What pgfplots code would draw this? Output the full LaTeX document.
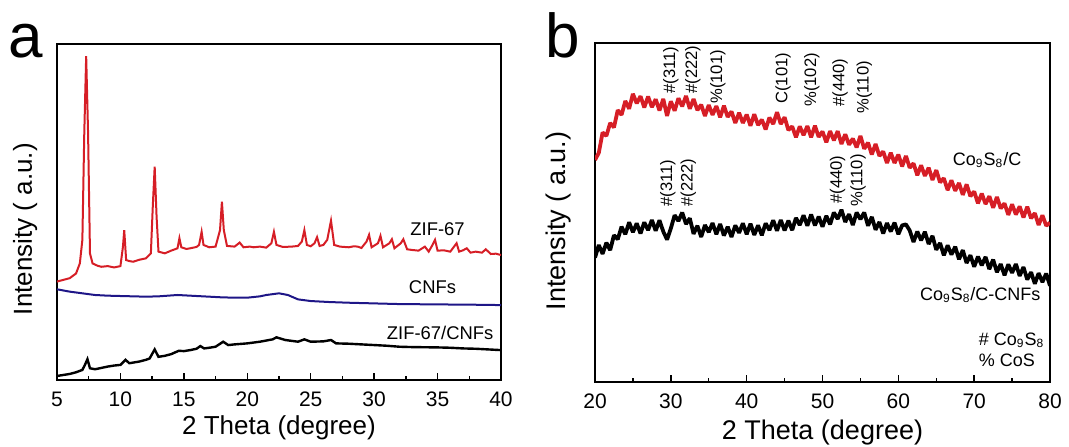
\documentclass[border=0pt]{standalone}
\usepackage{fontspec}
\setmainfont{Liberation Sans}
\usepackage{pgfplots}
\pgfplotsset{compat=1.18}
\definecolor{xred}{RGB}{214,30,38}
\definecolor{xblue}{RGB}{30,22,135}
\pgfplotsset{myaxis/.style={scale only axis, axis line style={line width=0.9pt}, ymin=0, ymax=100, ytick=\empty, xtick pos=left, tick style={black, line width=0.7pt}, major tick length=3.5pt, minor tick length=2pt, minor x tick num=1, tick label style={font=\fontsize{10.5}{12}\selectfont}, every x tick label/.append style={yshift=-2.5pt}, /pgf/number format/assume math mode=true, clip=true}}
\begin{document}
\begin{tikzpicture}[x=1pt,y=1pt]
\path[use as bounding box] (0,0) rectangle (534.5,223);
\node[font=\fontsize{31}{31}\selectfont, anchor=base west, inner sep=0pt] at (4,194.5) {a};
\node[font=\fontsize{31}{31}\selectfont, anchor=base west, inner sep=0pt] at (272.5,194.5) {b};
\begin{axis}[myaxis, at={(28.5pt,33pt)}, anchor=south west, width=222pt, height=168pt,
  xmin=5, xmax=40, xtick={5,10,...,40},
  xlabel={2 Theta (degree)}, xlabel style={font=\fontsize{13}{15}\selectfont, at={(axis description cs:0.5,-0.143)}, anchor=center},
  ylabel={Intensity ( a.u.)}, ylabel style={font=\fontsize{13}{15}\selectfont, at={(axis description cs:-0.072,0.449)}, anchor=center}]
% ZIF-67
\addplot[xred, line width=1pt] coordinates {
(5,29.3)(5.5,29.8)(6,30.3)(6.5,31.7)(6.8,34.7)(7.0,41.7)(7.15,73.4)(7.3,96.4)(7.45,73.4)(7.6,37.7)(7.8,34.7)
(8.2,34.0)(8.5,33.7)(9.0,33.9)(9.5,33.5)(10.0,33.9)(10.2,39.7)(10.3,44.6)(10.45,35.7)(10.7,35.4)(11,35.2)(11.5,35.8)(12,36.2)(12.4,37.7)(12.55,51.6)(12.7,63.5)(12.85,48.6)(13.0,38.2)
(13.5,37.7)(14.0,38.5)(14.5,39.2)(14.65,42.2)(14.8,39.5)(15.2,39.0)(15.5,39.2)(16.0,39.6)(16.2,40.2)(16.4,44.1)(16.55,40.2)(17.0,39.5)(17.5,39.7)(17.85,44.6)(18.0,53.1)(18.15,44.6)(18.4,39.9)
(19.0,39.7)(19.4,40.9)(19.7,39.5)(20.2,39.7)(20.5,39.5)(21.0,39.7)(21.5,39.4)(21.9,40.7)(22.1,44.1)(22.3,40.2)(22.8,39.6)(23.5,39.7)(24.0,39.9)(24.3,41.2)(24.5,44.6)(24.7,40.2)(25.0,39.8)(25.3,40.7)(25.5,42.5)(25.7,39.9)
(26.0,40.2)(26.3,41.7)(26.6,47.4)(26.85,40.2)(27.3,39.7)(28,39.5)(28.4,39.8)(28.7,39.7)(29.0,39.3)(29.4,41.2)(29.6,43.2)(29.8,39.5)(30.3,40.7)(30.5,42.9)(30.7,39.5)(31.2,40.7)(31.4,41.9)(31.6,39.2)(32.1,40.7)(32.3,41.9)(32.6,38.9)
(33.0,38.7)(33.5,38.5)(34.0,39.7)(34.3,38.2)(34.6,40.2)(34.8,41.7)(35.0,38.5)(35.5,38.6)(36.0,38.2)(36.5,40.7)(36.7,38.2)(37.0,38.6)(37.3,39.2)(37.6,37.9)(38.0,38.2)(38.5,37.9)(38.8,38.9)(39.2,37.5)(39.6,37.6)(40,37.2)};
% CNFs
\addplot[xblue, line width=1pt] coordinates {
(5,27.0)(6,26.3)(7,25.8)(8,25.3)(9,25.1)(10,25.0)(11,24.9)(12,24.8)(13,24.9)(14.5,25.3)(16,25.0)(17,24.8)(18,24.6)(19,24.5)(20,24.5)(21,24.9)(21.5,25.3)(22.5,25.8)(23.2,25.3)(24,24.0)(25,23.5)(26.5,23.2)(28,23.0)(30,22.8)(32,22.6)(35,22.5)(38,22.4)(40,22.3)};
% ZIF-67/CNFs
\addplot[black, line width=1.2pt] coordinates {
(5,1.2)(5.5,1.5)(6,1.8)(6.5,2.3)(7,3.0)(7.2,4.5)(7.4,6.2)(7.6,3.5)(8,3.2)(8.5,3.6)(9,4.0)(9.5,4.3)(10,4.5)(10.4,6.0)(10.7,5.0)(11.5,5.5)(12,6.0)(12.3,6.4)(12.7,9.1)(13,6.9)(13.5,7.2)(14,7.7)(14.6,8.7)(15,8.6)(15.5,8.9)(16,9.3)(16.3,10.1)(16.6,9.4)(17,9.6)(17.5,9.9)(18.1,11.4)(18.5,10.4)(19,10.6)(20,10.9)(21,11.4)(22,12.1)(22.3,12.7)(23,11.9)(24,11.4)(24.5,12.1)(25,11.4)(26,11.5)(26.6,11.9)(27,10.9)(28,10.8)(30,10.4)(31,10.2)(32,9.9)(33,9.8)(35,9.7)(36,9.6)(37,9.4)(38,9.3)(39,9.1)(40,8.9)};
\node[font=\fontsize{9.2}{11}\selectfont] at (axis cs:35.0,44.9) {ZIF-67};
\node[font=\fontsize{9.2}{11}\selectfont] at (axis cs:34.6,27.7) {CNFs};
\node[font=\fontsize{9.2}{11}\selectfont] at (axis cs:35.2,14.0) {ZIF-67/CNFs};
\end{axis}
\begin{axis}[myaxis, at={(297.5pt,32pt)}, anchor=south west, width=227.5pt, height=169.5pt,
  xmin=20, xmax=80, xtick={20,30,...,80},
  xlabel={2 Theta (degree)}, xlabel style={font=\fontsize{13.5}{15}\selectfont, at={(axis description cs:0.5,-0.150)}, anchor=center},
  ylabel={Intensity ( a.u.)}, ylabel style={font=\fontsize{13.5}{15}\selectfont, at={(axis description cs:-0.0813,0.475)}, anchor=center}]
% Co9S8/C
\addplot[xred, line width=1.9pt, line join=bevel] coordinates {
(20.0,65.5)(20.5,67.6)(21.0,73.6)(21.5,72.6)(22.0,76.4)(22.5,75.1)(23.0,80.2)(23.5,78.8)(24.0,82.9)(24.5,80.6)
(25.0,85.0)(25.5,82.2)(26.0,84.3)(26.5,81.0)(27.0,84.2)(27.5,81.1)(28.0,83.4)(28.5,80.1)(29.0,83.5)(29.5,78.5)
(30.0,82.8)(30.5,80.0)(31.0,83.7)(31.5,81.3)(32.0,84.4)(32.5,80.6)(33.0,83.5)(33.5,80.2)(34.0,81.8)(34.5,78.5)
(35.0,81.7)(35.5,78.8)(36.0,81.4)(36.5,78.1)(37.0,81.5)(37.5,78.2)(38.0,79.8)(38.5,76.4)(39.0,79.4)(39.5,76.4)
(40.0,78.9)(40.5,75.6)(41.0,79.0)(41.5,75.8)(42.0,77.4)(42.5,74.5)(43.0,78.0)(43.5,76.1)(44.0,79.6)(44.5,76.1)
(45.0,78.1)(45.5,74.3)(46.0,75.4)(46.5,72.2)(47.0,75.4)(47.5,72.8)(48.0,75.5)(48.5,72.2)(49.0,75.6)(49.5,72.3)
(50.0,73.9)(50.5,70.7)(51.0,74.0)(51.5,71.3)(52.0,74.0)(52.5,70.2)(53.0,73.1)(53.5,70.0)(54.0,71.8)(54.5,69.2)
(55.0,72.6)(55.5,68.8)(56.0,70.6)(56.5,67.1)(57.0,70.2)(57.5,66.7)(58.0,68.0)(58.5,64.6)(59.0,67.6)(59.5,64.6)
(60.0,67.1)(60.5,63.6)(61.0,66.7)(61.5,63.2)(62.0,64.5)(62.5,61.0)(63.0,63.9)(63.5,60.8)(64.0,63.2)(64.5,59.6)
(65.0,62.5)(65.5,58.9)(66.0,60.1)(66.5,56.6)(67.0,59.5)(67.5,56.4)(68.0,58.7)(68.5,55.2)(69.0,58.3)(69.5,54.8)
(70.0,56.2)(70.5,52.7)(71.0,55.6)(71.5,52.5)(72.0,54.8)(72.5,51.4)(73.0,54.6)(73.5,51.2)(74.0,52.7)(74.5,49.3)
(75.0,52.4)(75.5,49.4)(76.0,51.8)(76.5,48.5)(77.0,51.7)(77.5,48.3)(78.0,49.8)(78.5,46.3)(79.0,49.2)(79.5,46.1)(80.0,47.0)};
% Co9S8/C-CNFs
\addplot[black, line width=1.9pt, line join=bevel] coordinates {
(20.0,36.7)(20.5,40.4)(21.0,37.8)(21.5,41.1)(22.0,38.9)(22.5,43.3)(23.0,42.1)(23.5,45.8)(24.0,43.6)(24.5,47.1)
(25.0,44.2)(25.5,46.8)(26.0,43.8)(26.5,47.1)(27.0,44.8)(27.5,47.8)(28.0,44.6)(28.5,47.7)(29.0,44.4)(29.5,42.0)
(30.0,45.3)(30.5,49.2)(31.0,47.5)(31.5,50.0)(32.0,46.6)(32.5,48.3)(33.0,43.7)(33.5,46.1)(34.0,42.8)(34.5,46.3)
(35.0,44.2)(35.5,46.9)(36.0,43.6)(36.5,46.6)(37.0,43.2)(37.5,45.8)(38.0,42.8)(38.5,46.2)(39.0,44.0)(39.5,46.8)
(40.0,43.6)(40.5,46.7)(41.0,43.4)(41.5,46.2)(42.0,43.3)(42.5,46.8)(43.0,44.8)(43.5,47.7)(44.0,44.6)(44.5,47.8)
(45.0,44.7)(45.5,47.6)(46.0,44.8)(46.5,48.4)(47.0,46.3)(47.5,49.2)(48.0,46.1)(48.5,49.4)(49.0,46.2)(49.5,48.8)
(50.0,45.8)(50.5,49.0)(51.0,46.5)(51.5,50.0)(52.0,48.1)(52.5,50.8)(53.0,47.2)(53.5,49.5)(54.0,46.3)(54.5,50.0)
(55.0,48.0)(55.5,50.0)(56.0,46.1)(56.5,48.7)(57.0,44.9)(57.5,47.2)(58.0,43.8)(58.5,46.9)(59.0,44.4)(59.5,47.0)
(60.0,43.6)(60.5,46.2)(61.0,46.5)(61.5,44.7)(62.0,41.3)(62.5,44.4)(63.0,41.8)(63.5,44.3)(64.0,40.7)(64.5,43.1)
(65.0,39.0)(65.5,41.0)(66.0,37.4)(66.5,40.3)(67.0,37.6)(67.5,39.9)(68.0,36.2)(68.5,38.9)(69.0,35.1)(69.5,37.4)
(70.0,34.0)(70.5,37.0)(71.0,34.4)(71.5,36.9)(72.0,33.3)(72.5,36.1)(73.0,32.4)(73.5,34.8)(74.0,31.5)(74.5,34.7)
(75.0,32.2)(75.5,34.8)(76.0,31.3)(76.5,33.9)(77.0,30.2)(77.5,32.4)(78.0,29.0)(78.5,32.1)(79.0,29.5)(79.5,32.0)(80.0,28.4)};
\begin{scope}[every node/.style={font=\fontsize{8.3}{10}\selectfont, rotate=90, anchor=west, inner sep=0.5pt}]
\node at (axis cs:30.0,84.7) {\#(311)};
\node at (axis cs:32.9,84.7) {\#(222)};
\node at (axis cs:36.2,81.7) {\%(101)};
\node at (axis cs:44.8,81.7) {C(101)};
\node at (axis cs:48.6,80.8) {\%(102)};
\node at (axis cs:52.3,80.8) {\#(440)};
\node at (axis cs:55.5,78.8) {\%(110)};
\node at (axis cs:29.6,51.3) {\#(311)};
\node at (axis cs:32.3,51.3) {\#(222)};
\node at (axis cs:52.0,52.2) {\#(440)};
\node at (axis cs:54.7,51.3) {\%(110)};
\end{scope}
\node[font=\fontsize{9}{11}\selectfont] at (axis cs:71.7,65.5) {Co\textsubscript{9}S\textsubscript{8}/C};
\node[font=\fontsize{9}{11}\selectfont] at (axis cs:70.8,25.7) {Co\textsubscript{9}S\textsubscript{8}/C-CNFs};
\node[font=\fontsize{9}{11}\selectfont, anchor=west] at (axis cs:69.7,12.4) {\# Co\textsubscript{9}S\textsubscript{8}};
\node[font=\fontsize{9}{11}\selectfont, anchor=west] at (axis cs:69.7,6.5) {\% CoS};
\end{axis}
\end{tikzpicture}
\end{document}
